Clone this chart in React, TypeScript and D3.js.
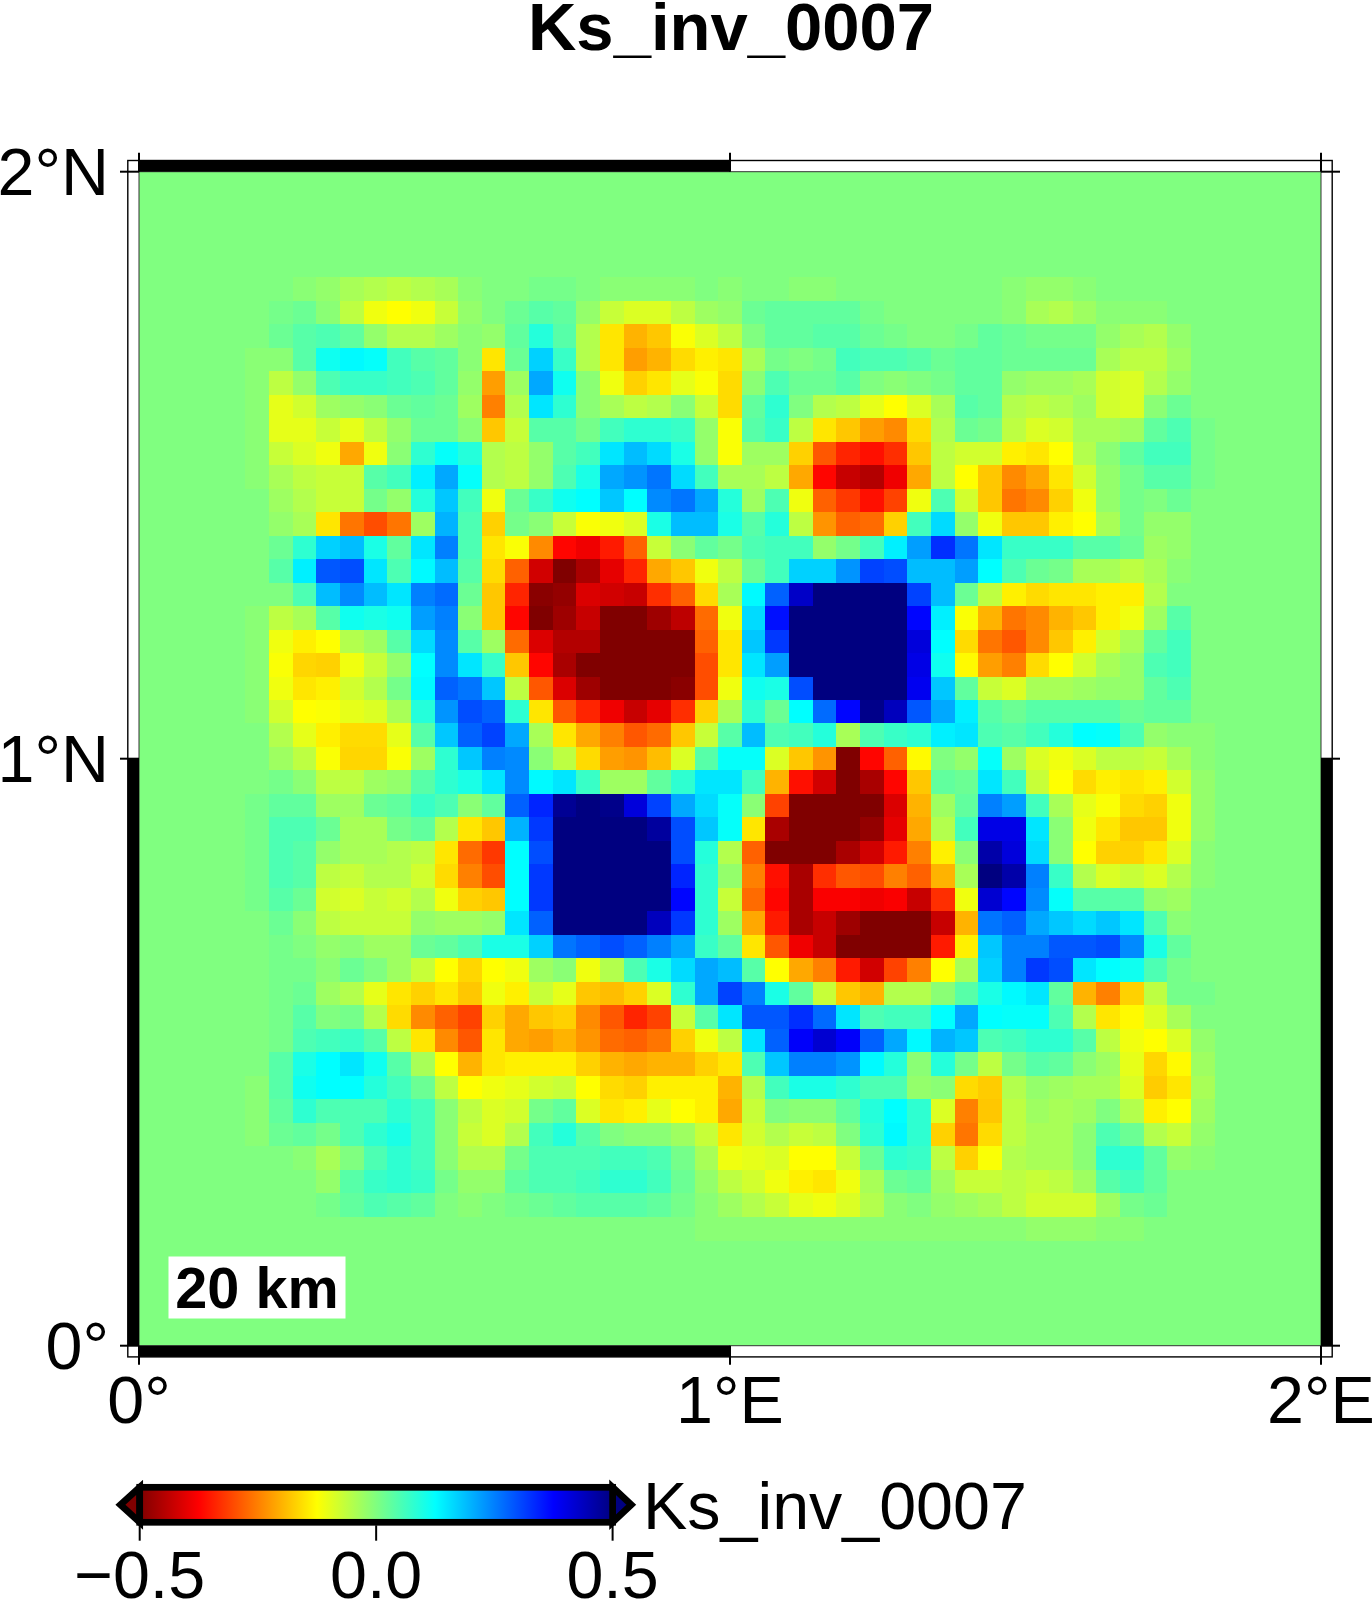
import React from 'react';
import * as d3 from 'd3';

const titleText = 'Ks_inv_0007';
const scaleLabel = '20 km';
const lonTicks = [{ v: 0, t: '0°' }, { v: 1, t: '1°E' }, { v: 2, t: '2°E' }];
const latTicks = [{ v: 0, t: '0°' }, { v: 1, t: '1°N' }, { v: 2, t: '2°N' }];
const barTicks = [-0.5, 0, 0.5];
const barLabels = ['−0.5', '0.0', '0.5'];
const gridStep = 0.04;
const firstCol = 5;
const firstRow = 5;

// Values in hundredths, each row runs west to east (node 5 to node 45), rows run north to south.
const row05 = [0,0,-1,-2,-4,-5,-6,-5,-4,-1,0,0,1,1,0,-1,-1,-1,-1,0,-1,0,0,-1,-1,0,0,0,0,0,0,0,-1,-2,-2,-1,0,0,0,0,0];
const row06 = [0,1,2,-1,-6,-11,-12.5,-11,-7,-2,0,2,4,3,-2,-7,-9,-9,-6,-3,-2,2,3,3,3,3,1,0,0,0,0,0,-1,-4,-5,-3,-1,-1,-1,0,0];
const row07 = [0,2,4,5,3,-2,-5,-5,-3,-1,-2,3,9,4,-5,-15,-20,-18,-12,-9,-6,0,3,3,4,4,2,1,0,0,1,3,2,1,1,1,-2,-4,-5,-2,0];
const row08 = [-1,-1,4,11,13,12,6,4,3,-1,-15,2,17,7,-5,-15,-22,-20,-16,-14,-15,-4,1,0,1,6,5,5,4,2,3,3,2,2,2,2,-4,-6,-6,-3,0];
const row09 = [-1,-6,-2,5,7,7,6,5,3,-2,-22,-3,21,11,-1,-11,-17,-15,-10,-12,-16,-1,5,2,2,4,0,-1,0,1,3,3,-2,-3,-3,-4,-8,-9,-5,-2,0];
const row10 = [-1,-10,-8,-3,-2,-1,2,3,2,-3,-25,-5,15,8,-1,-4,-6,-5,-1,-7,-16,3,8,0,-5,-6,-10,-12.5,-9,-4,4,3,-5,-6,-5,-3,-8,-9,-1,2,0];
const row11 = [-1,-10,-10,-7,-10,-6,-2,2,2,-1,-18,-7,4,4,1,6,8,8,7,-2,-12,4,7,-6,-15,-18,-22,-24,-16,-5,2,1,-6,-9,-8,-4,-4,-3,3,5,1];
const row12 = [-1,-7,-9,-11,-21,-11,-1,8,12,9,-5,-6,-2,4,6,15,19,16,10,-2,-12,-3,-3,-17,-29,-34,-36,-33,-18,-6,-8,-8,-14,-15,-12.5,-5,-1,3,6,6,1];
const row13 = [-1,-4,-6,-7,-7,4,6,14,21,12,-5,-6,-2,5,10,21,23,26,16,6,-4,-4,-6,-21,-37,-43,-45,-39,-21,-6,-12.5,-18,-24,-21,-15,-8,-2,1,4,4,1];
const row14 = [0,-3,-5,-7,-7,1,-2,9,18,6,-11,2,7,11,12.5,18,12.5,24,26,21,9,-3,5,-11,-28,-32,-36,-31,-11,5,-8,-18,-26,-24,-17,-11,-2,1,0,2,0];
const row15 = [0,-2,-4,-15,-26,-30,-26,-3,20,5,-17,1,-1,-7,-12,-11,-9,10,19,19,10,4,9,-6,-23,-28,-27,-17,6,16,-2,-11,-18,-18,-14,-12.5,-4,1,-2,-2,0];
const row16 = [0,2,8,17,19,10,3,15,25,5,-15,-12,-24,-37,-39,-35,-28,-7,-1,3,1,5,6,6,-2,1,6,14,22,33,26,15,7,7,7,4,4,2,-3,-2,0];
const row17 = [0,4,14,29,30,15,5,13,19,4,-16,-28,-42,-50,-46,-40,-34,-21,-18,-11,-6,2,6,17,17,23,31,30,19,19,22,12.5,5,2,1,-4,-4,-6,-4,-1,0];
const row18 = [0,0,5,19,24,19,15,25,27,2,-18,-34,-49,-48,-41,-42,-43,-33,-28,-16,-4,13,28,43,50,50,50,50,31,19,2,-6,-14,-16,-15,-15,-14,-14,-5,0,0];
const row19 = [-1,-6,-4,4,11,10,11,22,25,-1,-18,-37,-50,-47,-43,-50,-50,-47,-44,-27,-11,16,36,50,50,50,50,50,37,14,-12,-20,-26,-24,-20,-18,-14,-11,-3,4,0];
const row20 = [-1,-11,-14,-12.5,-5,-3,4,16,24,4,-3,-27,-41,-45,-45,-50,-50,-50,-50,-28,-15,18,32,50,50,50,50,50,41,12.5,-16,-26,-29,-24,-18,-14,-8,-4,3,6,0];
const row21 = [-1,-12,-16.5,-17,-11,-7,-2,12.5,24,15,7,-18,-37,-46,-50,-50,-50,-50,-50,-30,-15,15,22,50,50,50,50,50,40,11,-13,-22,-25,-16,-12.5,-8,-4,-2,5,6,0];
const row22 = [-1,-11,-15,-14,-8,-5,1,13,28,26,18,-6,-29,-41,-47,-50,-50,-50,-49,-30,-11,11,10,30,50,50,50,50,39,18,3,-7,-9,-4,-4,-3,-2,-2,3,5,0];
const row23 = [-1,-8,-12.5,-12,-10,-9,-4,9,23,30,28,8,-15,-29,-34,-39,-43,-40,-33,-17,-4,8,2,12.5,27,37,49,44,29,21,14,4,2,4,4,4,4,2,3,3,0];
const row24 = [0,-5,-10,-14,-16,-16,-10,4,18,28,31,21,-4,-15,-21,-25,-29,-27,-18,-7,4,19,5,6,9,-4,5,7,8,14,15,5,4,6,9,12.5,12,5,-2,-1,-1];
const row25 = [0,-3,-6,-12,-16.5,-16.5,-12,-3,8,18,25,24,-1,-6,-16,-22,-23,-19,-9,4,12,12,-9,-18,-23,-50,-37,-28,-13,0,-2,12,-3,-9,-11,-9,-6,-6,-7,-4,-1];
const row26 = [0,1,-1,-6,-6,-3,-2,4,8,10,15,24,13,15,7,-3,-3,3,8,15,15,6,-20,-36,-42,-50,-46,-37,-18,3,2,15,6,-7,-12.5,-16,-14,-15,-14,-8,-2];
const row27 = [1,3,3,-3,-3,2,3,7,5,-1,3,28,34,48,50,49,41,31,21,16,12,-1,-31,-50,-50,-50,-50,-41,-20,-3,3,25,22,6,-4,-10,-12,-16,-17,-11,-2];
const row28 = [1,5,5,2,-4,-4,1,3,-5,-15,-18,20,32,50,50,50,50,47,30,18,12,-15,-46,-50,-50,-50,-48,-40,-21,-5,6,40,40,15,-1,-11,-15,-18,-18,-11,-2];
const row29 = [1,5,4,-2,-4,-4,-5,-6,-15,-27,-32,12.5,30,50,50,50,50,50,30,9,-5,-28,-50,-50,-50,-46,-42,-35,-25,-14,-1,46,41,16,-1,-12.5,-17,-17,-15,-9,-1];
const row30 = [1,5,4,-6,-7,-5,-5,-8,-16,-25,-30,12.5,32,50,50,50,50,50,34,8,-2,-25,-36,-46,-33,-29,-30,-25,-28,-20,-4,50,46,25,7,-5,-9,-7,-9,-5,-1];
const row31 = [1,4,2,-8,-9,-7,-8,-5,-11,-17,-18,12.5,32,50,50,50,50,50,37,8,-7,-27,-37,-46,-38,-38,-39,-38,-43,-33,-11,42,37,24,12,4,4,4,-2,-3,0];
const row32 = [0,2,-1,-6,-7,-7,-7,-2,-3,-3,-2,15,28,50,50,50,50,44,32,8,-3,-21,-35,-46,-43,-47,-50,-50,-50,-43,-20,26,28,21,18,16,18,15,5,-1,0];
const row33 = [0,1,0,-2,-1,-3,-3,2,3,5,10,10,17,26,28,30,28,25,21,7,3,-15,-29,-39,-43,-50,-50,-50,-50,-35,-14,18,25,25,29,29,30,24,10,3,0];
const row34 = [0,1,1,-1,2,0,-3,-7,-12.5,-16.5,-12.5,-11,-3,-1,-11,-5,5,10,16,21,19,4,-12.5,-21,-25,-35,-42,-31,-25,-12.5,-4,17,25,32,30,15,12.5,11,5,1,0];
const row35 = [0,1,2,-3,-5,-10,-15,-17,-15,-18,-11,-14,-7,-10,-18,-19,-17,-9,8,21,31,25,10,3,-7,-18,-20,-5,-5,-1,4,10,13,15,3,-20,-25,-17,-6,1,1];
const row36 = [0,1,4,0,1,-5,-16,-24,-28,-31,-17,-21,-18,-17,-24,-29,-34,-31,-7,4,15,29,29,33,27,15,5,6,6,12.5,21,12.5,12,12,5,-5,-15,-13,-9,-4,0];
const row37 = [0,1,5,6,7,4,-6,-15,-24,-29,-15,-21,-22,-20,-23,-27,-28,-26,-17,-11,-6,15,28,38,42,38,28,21,13,20,18,5,6,8,8,4,-6,-11,-12.5,-9,-2];
const row38 = [0,4,10,12.5,15,11,4,-4,-12.5,-20,-15,-14,-14,-14,-17,-20,-21,-20,-20,-17,-15,5,18,25,25,23,13,9,-1,9,1,-6,1,4,3,-1,-3,-10,-16.5,-13,-3];
const row39 = [-1,4,11,12.5,12.5,9,6,2,-6,-12.5,-11,-10,-8,-7,-12.5,-16,-17,-14,-14,-14,-20,-5,6,10,10,8,5,5,-2,-1,-16,-17.5,-5,-2,-3,-4,-4,-9,-17.5,-15,-4];
const row40 = [-1,3,8,5,5,5,8,6,-1,-6,-9,-8,1,3,-9,-15,-14,-10,-12.5,-14,-21,-7,0,-1,-1,3,9,12.5,8,-9,-25,-18,-6,-3,-4,-3,0,-5,-14,-12.5,-3];
const row41 = [-1,2,3,1,5,8,10,6,-1,-7,-9,-5,6,9,4,0,-1,-1,-3,-7,-15,-8,-5,-7,-6,0,8,13,8,-17,-26,-16,-6,-4,-4,-1,5,2,-5,-7,-2];
const row42 = [0,0,-1,-4,0,5,8,6,-1,-5,-5,1,5,5,5,6,6,5,1,-4,-11,-10,-9,-12.5,-12.5,-7,2,8,7,-6,-17,-12,-5,-4,-4,-1,8,8,3,-2,-1];
const row43 = [0,0,0,-2,4,7,8,7,1,-2,-2,3,5,5,6,8,8,6,2,-2,-6,-8,-11,-14,-15,-11,-4,2,3,-3,-7,-7,-6,-7,-6,-3,4,6,3,0,0];
const row44 = [0,0,0,1,3,5,4,3,0,-1,0,1,2,3,4,4,4,3,1,-1,-3,-5,-7,-10,-11,-9,-5,-1,0,-2,-3,-4,-6,-8,-8,-8,-3,1,2,0,0];
const row45 = [0,0,0,0,0,0,0,0,0,0,0,0,0,0,0,0,0,0,0,-1,-1,-1,-1,-1,-1,-1,-1,-1,-1,-1,-1,-1,-1,-2,-2,-2,-1,-1,0,0,0];
const gridRows = [row05,row06,row07,row08,row09,row10,row11,row12,row13,row14,row15,row16,row17,row18,row19,row20,row21,row22,row23,row24,row25,row26,row27,row28,row29,row30,row31,row32,row33,row34,row35,row36,row37,row38,row39,row40,row41,row42,row43,row44,row45];

const jetStops = [-0.5, -0.375, -0.125, 0.125, 0.375, 0.5];
const jetColors = ['#800000', '#ff0000', '#ffff00', '#00ffff', '#0000ff', '#000080'];

const x = d3.scaleLinear().domain([0, 2]).range([139, 1321]);
const y = d3.scaleLinear().domain([0, 2]).range([1345.7, 171.7]);
const color = d3.scaleLinear<string>().domain(jetStops).range(jetColors).clamp(true);
const barX = d3.scaleLinear().domain([-0.5, 0.5]).range([139.7, 612.6]);

const SANS = '"Liberation Sans", Arimo, Helvetica, Arial, sans-serif';
const BAND = 11.2;
const TICK = 19;
const LABEL = 66.4;

export default function App() {
  const [x0, x1] = x.range();
  const [y1, y0] = y.range();
  const xm = x(1);
  const ym = y(1);
  const half = gridStep / 2;
  const barTop = 1487.3;
  const barBottom = 1522.3;
  const barMid = (barTop + barBottom) / 2;
  const barLeft = barX(-0.5);
  const barRight = barX(0.5);
  return (
    <svg width={1372} height={1602} viewBox="0 0 1372 1602" style={{ position: 'absolute', left: 0, top: 0, display: 'block' }} fontFamily={SANS}>
      <defs>
        <clipPath id="map"><rect x={x0} y={y0} width={x1 - x0} height={y1 - y0} /></clipPath>
        <linearGradient id="jet" x1="0" x2="1" y1="0" y2="0">
          {jetStops.map((s, i) => <stop key={s} offset={(s + 0.5)} stopColor={jetColors[i]} />)}
        </linearGradient>
      </defs>
      <text x={731} y={50} textAnchor="middle" fontSize={67} fontWeight="bold">{titleText}</text>

      <rect x={x0} y={y0} width={x1 - x0} height={y1 - y0} fill={color(0)} />
      <g clipPath="url(#map)" shapeRendering="crispEdges">
        {gridRows.map((row, r) => row.map((v, c) => {
          const lon = (firstCol + c) * gridStep;
          const lat = 2 - (firstRow + r) * gridStep;
          const left = x(lon - half);
          const top = y(lat + half);
          return <rect key={`${r}-${c}`} x={left} y={top} width={x(lon + half) - left + 0.5} height={y(lat - half) - top + 0.5} fill={color(v / 100)} />;
        }))}
      </g>

      {/* frame */}
      <rect x={x0 - BAND} y={y0 - BAND} width={x1 - x0 + 2 * BAND} height={y1 - y0 + 2 * BAND} fill="none" stroke="#000" strokeWidth={1.4} />
      <rect x={x0} y={y0} width={x1 - x0} height={y1 - y0} fill="none" stroke="#333" strokeWidth={1} />
      <rect x={x0} y={y0 - BAND} width={xm - x0} height={BAND} fill="#000" />
      <rect x={x0} y={y1} width={xm - x0} height={BAND} fill="#000" />
      <rect x={x0 - BAND} y={ym} width={BAND} height={y1 - ym} fill="#000" />
      <rect x={x1} y={ym} width={BAND} height={y1 - ym} fill="#000" />

      {lonTicks.map(t => (
        <g key={t.t}>
          <line x1={x(t.v)} x2={x(t.v)} y1={y0 - TICK} y2={y0} stroke="#000" strokeWidth={2} />
          <line x1={x(t.v)} x2={x(t.v)} y1={y1} y2={y1 + TICK} stroke="#000" strokeWidth={2} />
          <text x={x(t.v)} y={1423} textAnchor="middle" fontSize={LABEL}>{t.t}</text>
        </g>
      ))}
      {latTicks.map(t => (
        <g key={t.t}>
          <line x1={x0 - TICK} x2={x0} y1={y(t.v)} y2={y(t.v)} stroke="#000" strokeWidth={2} />
          <line x1={x1} x2={x1 + TICK} y1={y(t.v)} y2={y(t.v)} stroke="#000" strokeWidth={2} />
          <text x={109} y={y(t.v) + 23} textAnchor="end" fontSize={LABEL}>{t.t}</text>
        </g>
      ))}

      <rect x={168.5} y={1256.5} width={177} height={62} fill="#fff" />
      <text x={257} y={1308} textAnchor="middle" fontSize={57.6} fontWeight="bold">{scaleLabel}</text>

      {/* colour bar */}
      <path d={`M${barLeft},${barTop} L120.4,${barMid} L${barLeft},${barBottom} Z`} fill={jetColors[0]} stroke="#000" strokeWidth={6.7} />
      <path d={`M${barRight},${barTop} L631.3,${barMid} L${barRight},${barBottom} Z`} fill={jetColors[5]} stroke="#000" strokeWidth={6.7} />
      <rect x={barLeft} y={barTop} width={barRight - barLeft} height={barBottom - barTop} fill="url(#jet)" stroke="#000" strokeWidth={6.7} />
      {barTicks.map((t, i) => (
        <g key={t}>
          <line x1={barX(t)} x2={barX(t)} y1={barBottom + 3} y2={1540.7} stroke="#000" strokeWidth={2} />
          <text x={barX(t)} y={1598} textAnchor="middle" fontSize={LABEL}>{barLabels[i]}</text>
        </g>
      ))}
      <text x={643} y={1529} fontSize={LABEL}>{titleText}</text>
    </svg>
  );
}
